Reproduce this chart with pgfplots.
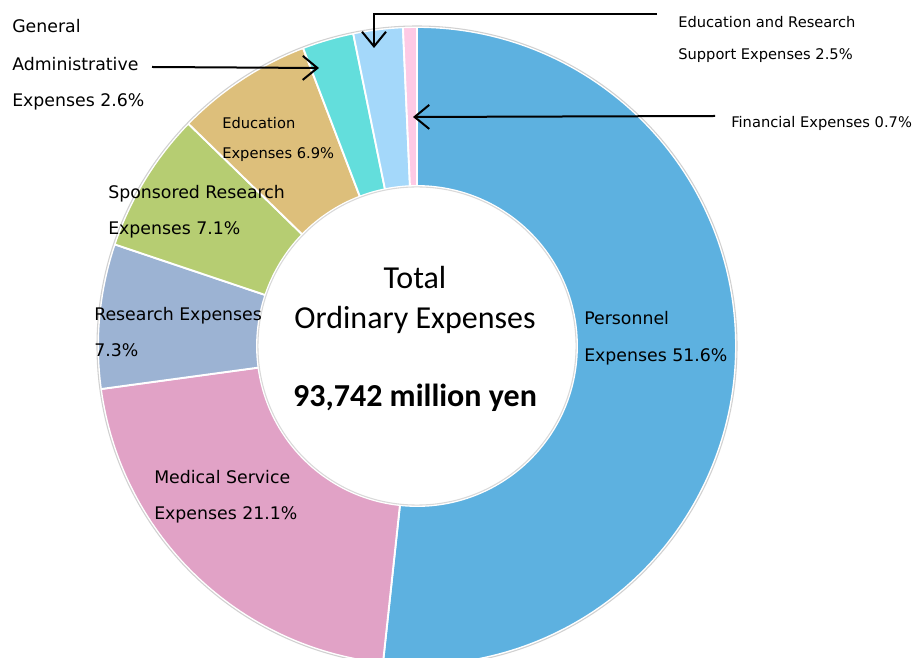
\documentclass[border=0pt]{standalone}
\usepackage{pgfplots}
\pgfplotsset{compat=1.18}
\usepackage{pgfplotstable}
\usepackage{fontspec}
\setmainfont{DejaVu Sans}
\newfontfamily\calibri{Carlito}
\usetikzlibrary{arrows.meta}

\definecolor{c0}{HTML}{5DB1E0}
\definecolor{c1}{HTML}{E1A2C6}
\definecolor{c2}{HTML}{9CB3D3}
\definecolor{c3}{HTML}{B6CD72}
\definecolor{c4}{HTML}{DDBF7B}
\definecolor{c5}{HTML}{63DEDC}
\definecolor{c6}{HTML}{A4D8FA}
\definecolor{c7}{HTML}{FDCAE5}

\pgfplotstableread[col sep=comma]{
name,value
Personnel,51.6
Medical Service,21.1
Research,7.3
Sponsored Research,7.1
Education,6.9
General Administrative,2.6
Education and Research Support,2.5
Financial,0.7
}\expenses

% total of the table
\gdef\total{0}
\foreach \i in {0,...,7}{%
  \pgfplotstablegetelem{\i}{value}\of\expenses
  \pgfmathparse{\total+\pgfplotsretval}\global\let\total\pgfmathresult
}
% start / end angles, clockwise from 12 o'clock
\gdef\cum{0}
\foreach \i in {0,...,7}{%
  \pgfplotstablegetelem{\i}{value}\of\expenses
  \let\myval\pgfplotsretval
  \pgfmathsetmacro\st{90-(\cum/\total)*360}
  \pgfmathparse{\cum+\myval}\global\let\cum\pgfmathresult
  \pgfmathsetmacro\en{90-(\cum/\total)*360}
  \expandafter\xdef\csname angS\i\endcsname{\st}
  \expandafter\xdef\csname angE\i\endcsname{\en}
}

\begin{document}
\begin{tikzpicture}
\useasboundingbox (0,0) rectangle (690pt,492.75pt);
\begin{axis}[
  x=0.75pt, y=0.75pt,
  xmin=0, xmax=920, ymin=0, ymax=657,
  hide axis, clip=true,
]
\def\cx{417}\def\cy{311}\def\ro{319}\def\ri{160}
\pgfplotsinvokeforeach{0,...,7}{%
  \filldraw[fill=c#1, draw=white, line width=1.4pt]
    (axis cs:{\cx+\ro*cos(\csname angS#1\endcsname)},{\cy+\ro*sin(\csname angS#1\endcsname)})
    arc[start angle=\csname angS#1\endcsname, end angle=\csname angE#1\endcsname, radius=239.25pt]
    -- (axis cs:{\cx+\ri*cos(\csname angE#1\endcsname)},{\cy+\ri*sin(\csname angE#1\endcsname)})
    arc[start angle=\csname angE#1\endcsname, end angle=\csname angS#1\endcsname, radius=120pt]
    -- cycle;
}
\draw[black!18, line width=0.8pt] (axis cs:\cx,\cy) circle[radius=240pt];
\draw[black!15, line width=0.8pt] (axis cs:\cx,\cy) circle[radius=119.3pt];

% center text
\node[anchor=base, font=\calibri\fontsize{24pt}{28pt}\selectfont] at (axis cs:415,368) {Total};
\node[anchor=base, font=\calibri\fontsize{24pt}{28pt}\selectfont] at (axis cs:415,328) {Ordinary Expenses};
\node[anchor=base, font=\calibri\bfseries\fontsize{24pt}{28pt}\selectfont] at (axis cs:415,250) {93,742 million yen};

% slice labels
\tikzset{lbl/.style={anchor=base west, inner sep=0pt, font=\fontsize{13pt}{15pt}\selectfont},
         lbs/.style={anchor=base west, inner sep=0pt, font=\fontsize{11pt}{13pt}\selectfont}}
\node[lbl] at (axis cs:584,332) {Personnel};
\node[lbl] at (axis cs:584,295) {Expenses 51.6\%};
\node[lbl] at (axis cs:154,174) {Medical Service};
\node[lbl] at (axis cs:154,138) {Expenses 21.1\%};
\node[lbl] at (axis cs:94,336) {Research Expenses};
\node[lbl] at (axis cs:94,300) {7.3\%};
\node[lbl] at (axis cs:108,458) {Sponsored Research};
\node[lbl] at (axis cs:108,422) {Expenses 7.1\%};
\node[lbs] at (axis cs:222,528) {Education};
\node[lbs] at (axis cs:222,498) {Expenses 6.9\%};
\node[lbl] at (axis cs:12,624) {General};
\node[lbl] at (axis cs:12,586) {Administrative};
\node[lbl] at (axis cs:12,550) {Expenses 2.6\%};
\node[lbs] at (axis cs:678,629) {Education and Research};
\node[lbs] at (axis cs:678,597) {Support Expenses 2.5\%};
\node[lbs] at (axis cs:731,529) {Financial Expenses 0.7\%};

% leader arrows
\tikzset{ldr/.style={black, line width=1.5pt, -{Straight Barb[length=11pt,width=18pt]}}}
\draw[ldr] (axis cs:152,590) -- (axis cs:319,589);
\draw[ldr] (axis cs:657,643) -- (axis cs:374,643) -- (axis cs:374,609);
\draw[ldr] (axis cs:715,541) -- (axis cs:413,540);
\end{axis}
\end{tikzpicture}
\end{document}
